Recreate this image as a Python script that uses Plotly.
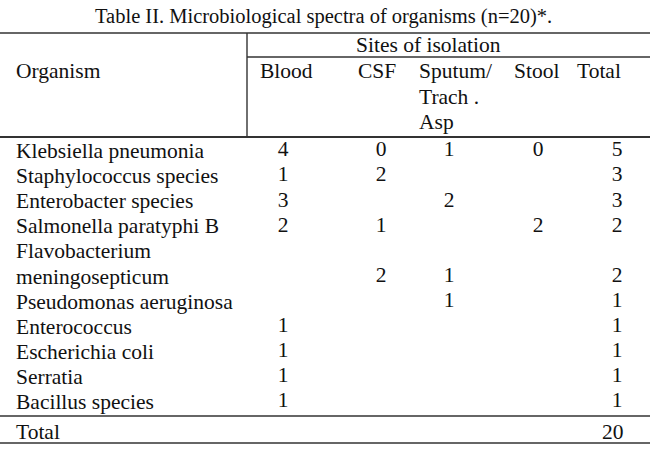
import plotly.graph_objects as go

# table contents
title = "Table II. Microbiological spectra of organisms (n=20)*."
organisms = ["Klebsiella pneumonia", "Staphylococcus species", "Enterobacter species",
             "Salmonella paratyphi B", "Flavobacterium<br>meningosepticum",
             "Pseudomonas aeruginosa", "Enterococcus", "Escherichia coli",
             "Serratia", "Bacillus species"]
blood = [4, 1, 3, 2, None, None, 1, 1, 1, 1]
csf = [0, 2, None, 1, 2, None, None, None, None, None]
sputum = [1, None, 2, None, 1, 1, None, None, None, None]
stool = [0, None, None, 2, None, None, None, None, None, None]
total = [5, 3, 3, 2, 2, 1, 1, 1, 1, 1]
grand_total = 20

FONT = "Liberation Serif"
INK = "#111111"
SIZE = 21.5
W, H = 650, 459

# layout in pixel units (y grows downwards)
col_x = [283, 381, 449, 538, 617]
first_y, step = 151, 25.1

fig = go.Figure()

def txt(x, y, s, anchor="center", size=SIZE):
    fig.add_annotation(x=x, y=y, text=s, xanchor=anchor, yanchor="middle",
                       showarrow=False, font=dict(family=FONT, size=size, color=INK))

# each wrapped label line gets its own row; numbers go on the last one
value_y = []
line = 0
for name in organisms:
    for part in name.split("<br>"):
        txt(14, first_y + step * line, part, "left")
        line += 1
    value_y.append(first_y + step * (line - 1))

for cx, col in zip(col_x, [blood, csf, sputum, stool, total]):
    xs = [cx for v in col if v is not None]
    ys = [y for v, y in zip(col, value_y) if v is not None]
    ts = [str(v) for v in col if v is not None]
    fig.add_trace(go.Scatter(x=xs, y=ys, text=ts, mode="text",
                             textposition="middle center",
                             textfont=dict(family=FONT, size=SIZE, color=INK),
                             hoverinfo="skip", showlegend=False))

# header texts
txt(323, 16, title, size=20.5)
txt(428, 45, "Sites of isolation")
txt(14, 71, "Organism", "left")
txt(258, 71, "Blood", "left")
txt(356, 71, "CSF", "left")
txt(417, 71, "Sputum/", "left")
txt(417, 97, "Trach .", "left")
txt(417, 122, "Asp", "left")
txt(512, 71, "Stool", "left")
txt(575, 71, "Total", "left")
txt(14, 432, "Total", "left")
txt(613, 432, str(grand_total), "center")

# rules
def hline(y, x0=0, x1=W, w=1.6):
    fig.add_shape(type="line", x0=x0, x1=x1, y0=y, y1=y,
                  line=dict(color="#333", width=w))

hline(33)
hline(57, x0=247)
hline(137, w=2.2)
hline(416)
hline(443)
fig.add_shape(type="line", x0=247, x1=247, y0=33, y1=137,
              line=dict(color="#333", width=1.4))

fig.update_xaxes(range=[0, W], visible=False, fixedrange=True)
fig.update_yaxes(range=[H, 0], visible=False, fixedrange=True)
fig.update_layout(width=W, height=H, margin=dict(l=0, r=0, t=0, b=0),
                  paper_bgcolor="white", plot_bgcolor="white")

# page body has a default 8px margin; drop it so the table sits at 0,0
fig.write_html("out.html", config={"displayModeBar": False},
               post_script="document.body.style.margin='0';")
